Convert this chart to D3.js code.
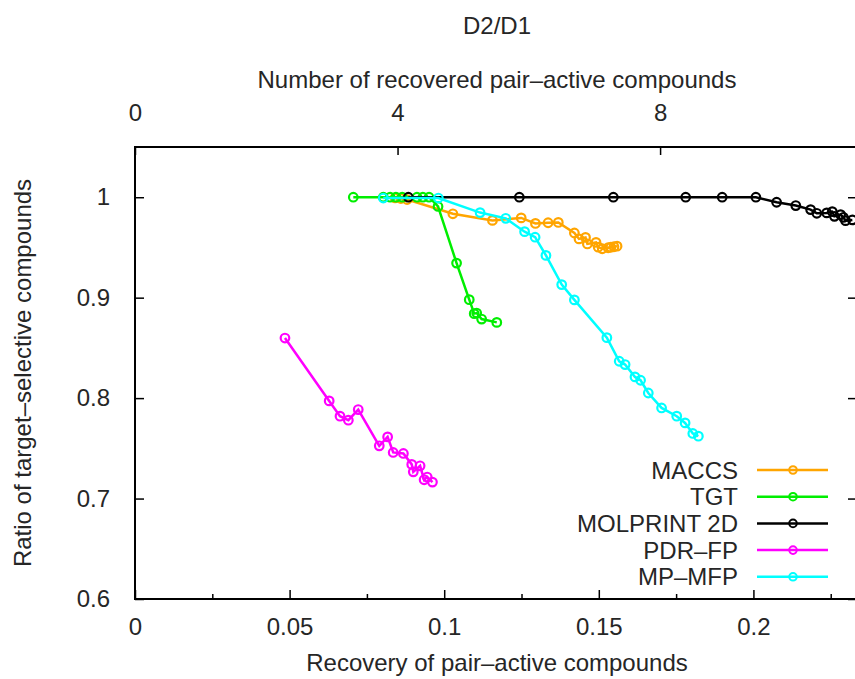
<!DOCTYPE html>
<html>
<head>
<meta charset="utf-8">
<script src="https://cdn.jsdelivr.net/npm/d3@7"></script>
<style>
  body { margin: 0; background: #fff; }
  svg text { font-family: "Liberation Sans", Arial, sans-serif; fill: #262626; }
</style>
</head>
<body>
<svg id="chart" width="855" height="679"></svg>
<script>
// values
const seriesNames = ["MACCS", "TGT", "MOLPRINT 2D", "PDR–FP", "MP–MFP"];
const seriesColors = ["#ffa500", "#00ee00", "#000000", "#ff00ff", "#00ffff"];

const maccsX = [0.0841, 0.0860, 0.0880, 0.1028, 0.1156, 0.1249, 0.1295, 0.1336, 0.1369, 0.1421,
                0.1436, 0.1457, 0.1463, 0.1491, 0.1498, 0.1511, 0.1530, 0.1539, 0.1549, 0.1559];
const maccsY = [0.9993, 0.9987, 0.9977, 0.9835, 0.9769, 0.9794, 0.9739, 0.9746, 0.9749, 0.9644,
                0.9585, 0.9600, 0.9535, 0.9550, 0.9503, 0.9487, 0.9497, 0.9502, 0.9507, 0.9513];

const tgtX = [0.0706, 0.0803, 0.0825, 0.0844, 0.0864, 0.0912, 0.0931, 0.0951, 0.0980, 0.1040,
              0.1081, 0.1097, 0.1105, 0.1121, 0.1170];
const tgtY = [1, 1, 1, 1, 1, 1, 1, 1, 0.9908, 0.9344,
              0.8980, 0.8841, 0.8847, 0.8787, 0.8754];

const molX = [0.0884, 0.1243, 0.1547, 0.1781, 0.1899, 0.2008, 0.2075, 0.2137, 0.2185, 0.2205,
              0.2237, 0.2255, 0.2262, 0.2282, 0.2291, 0.2298, 0.2320];
const molY = [1, 1, 1, 1, 1, 1, 0.9950, 0.9917, 0.9877, 0.9840,
              0.9844, 0.9857, 0.9810, 0.9827, 0.9800, 0.9767, 0.9774];

const pdrX = [0.0485, 0.0628, 0.0663, 0.0690, 0.0722, 0.0790, 0.0817, 0.0835, 0.0868, 0.0895,
              0.0900, 0.0922, 0.0935, 0.0945, 0.0962];
const pdrY = [0.8598, 0.7972, 0.7820, 0.7780, 0.7886, 0.7525, 0.7614, 0.7459, 0.7449, 0.7340,
              0.7266, 0.7326, 0.7187, 0.7214, 0.7164];

const mfpX = [0.0803, 0.0981, 0.1116, 0.1199, 0.1260, 0.1294, 0.1329, 0.1380, 0.1421, 0.1526,
              0.1566, 0.1585, 0.1617, 0.1635, 0.1660, 0.1703, 0.1752, 0.1779, 0.1804, 0.1822];
const mfpY = [0.9992, 0.9992, 0.9847, 0.9790, 0.9657, 0.9602, 0.9421, 0.9130, 0.8978, 0.8602,
              0.8367, 0.8334, 0.8211, 0.8178, 0.8051, 0.7902, 0.7820, 0.7753, 0.7648, 0.7621];

const xTicks = [0, 0.05, 0.1, 0.15, 0.2];
const xMinorTicks = [0.025, 0.075, 0.125, 0.175, 0.225];
const yTicks = [0.6, 0.7, 0.8, 0.9, 1];
const x2Ticks = [0, 4, 8];

const allX = [maccsX, tgtX, molX, pdrX, mfpX];
const allY = [maccsY, tgtY, molY, pdrY, mfpY];

const svg = d3.select("#chart");
const mLeft = 135, mRight = 857, mTop = 147, mBottom = 599;

const x = d3.scaleLinear().domain([0, 0.2335]).range([mLeft, mRight]);
const x2 = d3.scaleLinear().domain([0, 11]).range([mLeft, mRight]);
const y = d3.scaleLinear().domain([0.6, 1.05]).range([mBottom, mTop]);

svg.append("defs").append("clipPath").attr("id", "plot")
  .append("rect").attr("x", mLeft).attr("y", mTop).attr("width", mRight - mLeft).attr("height", mBottom - mTop);

// axes
const axisStyle = g => {
  g.select(".domain").remove();
  g.selectAll("line").attr("stroke", "#000").attr("stroke-width", 1.5);
  g.selectAll("text").style("font-size", "24px").attr("fill", "#262626");
};

svg.append("g").attr("transform", `translate(0,${mBottom})`)
  .call(d3.axisBottom(x).tickValues(xTicks).tickFormat(d3.format("")).tickSizeInner(-9).tickSizeOuter(0).tickPadding(19))
  .call(axisStyle);
svg.append("g").attr("transform", `translate(0,${mBottom})`)
  .call(d3.axisBottom(x).tickValues(xMinorTicks).tickFormat("").tickSizeInner(-5).tickSizeOuter(0))
  .call(axisStyle);

svg.append("g").attr("transform", `translate(0,${mTop})`)
  .call(d3.axisTop(x2).tickValues(x2Ticks).tickFormat(d3.format("d")).tickSizeInner(-8).tickSizeOuter(0).tickPadding(26))
  .call(axisStyle);

svg.append("g").attr("transform", `translate(${mLeft},0)`)
  .call(d3.axisLeft(y).tickValues(yTicks).tickFormat(d3.format("")).tickSizeInner(-9).tickSizeOuter(0).tickPadding(25))
  .call(axisStyle);
svg.append("g").attr("transform", `translate(${mRight},0)`)
  .call(d3.axisRight(y).tickValues(yTicks).tickFormat("").tickSizeInner(-9).tickSizeOuter(0))
  .call(axisStyle);

// border
svg.append("rect").attr("x", mLeft).attr("y", mTop).attr("width", mRight - mLeft).attr("height", mBottom - mTop)
  .attr("fill", "none").attr("stroke", "#000").attr("stroke-width", 2);

// titles
svg.append("text").attr("x", 497).attr("y", 34).attr("text-anchor", "middle").style("font-size", "24px").text("D2/D1");
svg.append("text").attr("x", 497).attr("y", 88).attr("text-anchor", "middle").style("font-size", "24px")
  .text("Number of recovered pair–active compounds");
svg.append("text").attr("x", 497).attr("y", 671).attr("text-anchor", "middle").style("font-size", "24px")
  .text("Recovery of pair–active compounds");
svg.append("text").attr("transform", `translate(31,${(mTop + mBottom) / 2}) rotate(-90)`)
  .attr("text-anchor", "middle").style("font-size", "24px")
  .text("Ratio of target–selective compounds");

// series
const plot = svg.append("g").attr("clip-path", "url(#plot)");
const line = d3.line().x(d => x(d[0])).y(d => y(d[1]));

seriesNames.forEach((name, i) => {
  const pts = allX[i].map((v, j) => [v, allY[i][j]]);
  const g = plot.append("g");
  g.append("path").datum(pts).attr("d", line)
    .attr("fill", "none").attr("stroke", seriesColors[i]).attr("stroke-width", 2.5);
  g.selectAll("circle").data(pts).enter().append("circle")
    .attr("cx", d => x(d[0])).attr("cy", d => y(d[1])).attr("r", 4.3)
    .attr("fill", "none").attr("stroke", seriesColors[i]).attr("stroke-width", 2.2);
});

// legend
const legend = svg.append("g");
seriesNames.forEach((name, i) => {
  const ly = 470 + i * 26.7;
  legend.append("text").attr("x", 738).attr("y", ly + 8.5).attr("text-anchor", "end")
    .style("font-size", "24px").text(name);
  legend.append("line").attr("x1", 757).attr("x2", 828).attr("y1", ly).attr("y2", ly)
    .attr("stroke", seriesColors[i]).attr("stroke-width", 2.5);
  legend.append("circle").attr("cx", 793).attr("cy", ly).attr("r", 3.8)
    .attr("fill", "none").attr("stroke", seriesColors[i]).attr("stroke-width", 2);
});
</script>
</body>
</html>
